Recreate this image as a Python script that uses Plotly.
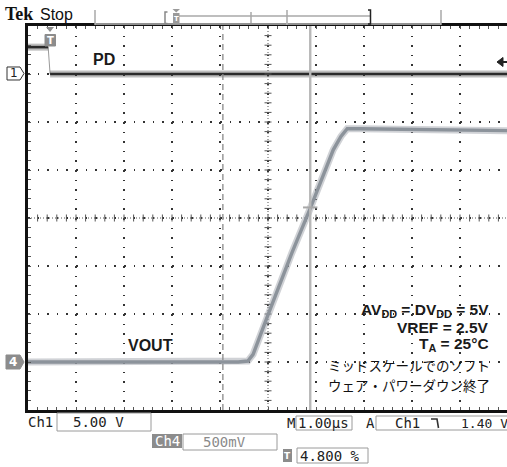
import plotly.graph_objects as go

# ---- scope record: time in microseconds relative to trigger ----
pd_t = [-0.48, -0.06, -0.02, 9.50]
pd_v = [2.80, 2.80, 0.00, 0.00]          # Ch1, volts

vout_t = [-0.48, 3.90, 4.10, 4.21, 4.52, 5.02, 5.40, 5.88, 6.04, 6.17, 6.44, 7.69, 9.50]
vout_v = [0.00, 0.00, 0.01, 0.08, 0.49, 1.14, 1.60, 2.21, 2.35, 2.43, 2.43, 2.42, 2.41]  # Ch4, volts

ch1_scale = "5.00 V"
ch4_scale = "500mV"
time_scale = "1.00µs"
trig_level = "1.40 V"
trig_pos = "4.800 %"

cond_lines = [
    "<b>AV<sub>DD</sub> = DV<sub>DD</sub> = 5V</b>",
    "<b>VREF = 2.5V</b>",
    "<b>T<sub>A</sub> = 25°C</b>",
]
jp_lines = ["ミッドスケールでのソフト", "ウェア・パワーダウン終了"]

W, H = 507, 467
L, T, PW, PH = 28, 26, 479, 384
X0 = -0.48
XR = [X0, X0 + PW / 48.0]
CH1_RANGE = [-35, 5]
CH4_RANGE = [-0.5, 3.5]


def px(x):
    return (x - L) / PW


def py(y):
    return (T + PH - y) / PH


fig = go.Figure()

# PD (Ch1): fast edge drawn thin, settled levels drawn heavy
fig.add_trace(go.Scatter(x=pd_t, y=pd_v, mode="lines", yaxis="y",
                         line=dict(color="#9a9a9a", width=1), hoverinfo="skip"))
for seg in (slice(0, 2), slice(2, 4)):
    fig.add_trace(go.Scatter(x=pd_t[seg], y=pd_v[seg], mode="lines", yaxis="y",
                             line=dict(color="rgba(70,70,70,0.35)", width=7), hoverinfo="skip"))
    fig.add_trace(go.Scatter(x=pd_t[seg], y=pd_v[seg], mode="lines", yaxis="y",
                             line=dict(color="#2b2b2b", width=2.6), hoverinfo="skip"))

# VOUT (Ch4)
fig.add_trace(go.Scatter(x=vout_t, y=vout_v, mode="lines", yaxis="y2",
                         line=dict(color="rgba(150,156,164,0.45)", width=7), hoverinfo="skip"))
fig.add_trace(go.Scatter(x=vout_t, y=vout_v, mode="lines", yaxis="y2",
                         line=dict(color="#8c939b", width=3.4), hoverinfo="skip"))

# graticule centre-line ticks (every 1/5 division)
xc = X0 + 5
tick_x = [X0 + i * 0.2 for i in range(1, 50)]
tick_y = [CH1_RANGE[0] + i * 1.0 for i in range(1, 40)]
fig.add_trace(go.Scatter(x=tick_x, y=[-15] * len(tick_x), mode="markers", yaxis="y",
                         marker=dict(symbol="line-ns", size=5, line=dict(color="#555", width=1)),
                         hoverinfo="skip"))
fig.add_trace(go.Scatter(x=[xc] * len(tick_y), y=tick_y, mode="markers", yaxis="y",
                         marker=dict(symbol="line-ew", size=5, line=dict(color="#555", width=1)),
                         hoverinfo="skip"))

shapes = []
# centre crosshair
shapes.append(dict(type="line", xref="x", yref="y", x0=XR[0], x1=XR[1], y0=-15, y1=-15,
                   line=dict(color="#555", width=1, dash="1px,2px"), layer="below"))
shapes.append(dict(type="line", xref="x", yref="paper", x0=xc, x1=xc, y0=0, y1=1,
                   line=dict(color="#555", width=1, dash="1px,2px"), layer="below"))
# cursors
shapes.append(dict(type="line", xref="x", yref="paper", x0=3.58, x1=3.58, y0=0, y1=1,
                   line=dict(color="#8a8a8a", width=1.3, dash="6px,4px")))
shapes.append(dict(type="line", xref="x", yref="paper", x0=5.40, x1=5.40, y0=0, y1=1,
                   line=dict(color="#b8b8b8", width=2.4)))
shapes.append(dict(type="line", xref="x", yref="y2", x0=5.25, x1=5.55, y0=1.61, y1=1.61,
                   line=dict(color="#a8a8a8", width=2)))


def path(pts, close=True):
    s = "M" + " L".join(f"{px(a):.5f},{py(b):.5f}" for a, b in pts)
    return s + (" Z" if close else "")


# channel ground markers
shapes.append(dict(type="path", xref="paper", yref="paper",
                   path=path([(7, 67), (20, 67), (24, 73.5), (20, 80), (7, 80)]),
                   fillcolor="white", line=dict(color="#333", width=1)))
shapes.append(dict(type="path", xref="paper", yref="paper",
                   path=path([(6, 355), (20, 355), (24, 362), (20, 369), (6, 369)]),
                   fillcolor="#8c8c8c", line=dict(color="#8c8c8c", width=1)))
# trigger position marker
shapes.append(dict(type="path", xref="paper", yref="paper",
                   path=path([(46, 27), (54, 27), (50, 32)]),
                   fillcolor="#8c8c8c", line=dict(width=0)))
shapes.append(dict(type="rect", xref="paper", yref="paper",
                   x0=px(45), x1=px(55.5), y0=py(46), y1=py(34.5),
                   fillcolor="#8c8c8c", line=dict(color="#8c8c8c", width=1)))
# trigger level arrow
shapes.append(dict(type="path", xref="paper", yref="paper",
                   path=path([(497, 62), (503, 57.5), (503, 66.5)]),
                   fillcolor="#222", line=dict(color="#222", width=1)))
shapes.append(dict(type="line", xref="paper", yref="paper", x0=px(502), x1=px(507),
                   y0=py(62), y1=py(62), line=dict(color="#222", width=2)))

# header record bar
hdr = "#a8a8a8"
for xv, ya, yb in [(95, 10, 25), (251, 12, 23), (287, 10, 25), (441, 10, 25)]:
    shapes.append(dict(type="line", xref="paper", yref="paper", x0=px(xv), x1=px(xv),
                       y0=py(ya), y1=py(yb), line=dict(color=hdr, width=1.5)))
shapes.append(dict(type="line", xref="paper", yref="paper", x0=px(179), x1=px(370),
                   y0=py(16), y1=py(16), line=dict(color=hdr, width=1.5)))
shapes.append(dict(type="line", xref="paper", yref="paper", x0=px(95), x1=px(441),
                   y0=py(24), y1=py(24), line=dict(color="#bdbdbd", width=1.5)))
shapes.append(dict(type="path", xref="paper", yref="paper",
                   path=path([(167.5, 12), (165, 12), (165, 23.5), (167.5, 23.5)], close=False),
                   line=dict(color="#888", width=1.5)))
shapes.append(dict(type="path", xref="paper", yref="paper",
                   path=path([(368, 10), (370.5, 10), (370.5, 24), (368, 24)], close=False),
                   line=dict(color="#222", width=1.5)))
shapes.append(dict(type="rect", xref="paper", yref="paper", x0=px(173), x1=px(179.5),
                   y0=py(24), y1=py(13), fillcolor="#9a9a9a", line=dict(width=0)))
shapes.append(dict(type="path", xref="paper", yref="paper",
                   path=path([(172.5, 9), (180, 9), (176.2, 12.5)]),
                   fillcolor="#9a9a9a", line=dict(width=0)))

# bottom read-out boxes
box = dict(color="#9a9a9a", width=1)
for x0, y0, x1, y1 in [(57, 413, 151, 431), (183, 434, 277, 450), (296, 416, 352, 430),
                       (376, 416, 512, 430), (297, 448, 368, 463)]:
    shapes.append(dict(type="rect", xref="paper", yref="paper", x0=px(x0), x1=px(x1),
                       y0=py(y1), y1=py(y0), line=box, fillcolor="rgba(0,0,0,0)"))
shapes.append(dict(type="rect", xref="paper", yref="paper", x0=px(152), x1=px(182),
                   y0=py(448), y1=py(434), fillcolor="#8c8c8c", line=dict(width=0)))
shapes.append(dict(type="rect", xref="paper", yref="paper", x0=px(283), x1=px(292),
                   y0=py(462), y1=py(449), fillcolor="#8c8c8c", line=dict(width=0)))
# falling-edge slope symbol
shapes.append(dict(type="path", xref="paper", yref="paper",
                   path=path([(431, 419), (437, 419), (438.5, 428)], close=False),
                   line=dict(color="#333", width=1.6)))

ann = []


def text(x, y, s, size=14, color="#222", family="Liberation Sans", xa="center", ya="middle",
         h=None):
    a = dict(x=px(x), y=py(y), xref="paper", yref="paper", text=s, showarrow=False,
             xanchor=xa, yanchor=ya, font=dict(size=size, color=color, family=family))
    if h is not None:
        a.update(height=h, valign="middle")
    ann.append(a)


mono = "DejaVu Sans Mono"
text(3, 14, "<b>Tek</b>", 18, "#111", "Liberation Serif", xa="left")
text(38, 14.5, "Stop", 16, "#111", "Liberation Sans", xa="left")
text(13.5, 73.5, "1", 12, "#222", "DejaVu Sans")
text(13, 362, "<b>4</b>", 12, "white", "DejaVu Sans")
text(50.3, 40.5, "<b>T</b>", 10, "white", "DejaVu Sans")
text(176.3, 18.5, "<b>T</b>", 7, "white", "DejaVu Sans")
text(104, 60, "<b>PD</b>", 16, "#1a1a1a")
text(150, 345, "<b>VOUT</b>", 16, "#1a1a1a")

for s, yy in zip(cond_lines, [310.5, 327.5, 344]):
    text(491, yy, s, 15.5, "#1a1a1a", xa="right", h=15)
for s, yy in zip(jp_lines, [364.5, 385]):
    text(492, yy, s, 13.5, "#111", "Noto Sans CJK JP", xa="right", h=18)

text(26, 422, "Ch1", 14, "#222", mono, xa="left")
text(98, 422, ch1_scale, 14, "#222", mono)
text(167, 441, "Ch4", 14, "white", mono)
text(224, 442, ch4_scale, 14, "#8a8a8a", mono)
text(291, 423, "M", 14, "#222", mono)
text(323, 423, time_scale, 14, "#222", mono)
text(370, 423, "A", 14, "#222", mono)
text(407, 423, "Ch1", 14, "#222", mono)
text(459, 423, trig_level, 13, "#222", mono, xa="left")
text(287.5, 455.5, "<b>T</b>", 9, "white", "DejaVu Sans")
text(298, 456, trig_pos, 14, "#222", mono, xa="left")

fig.update_layout(
    width=W, height=H,
    margin=dict(l=L, r=W - L - PW, t=T, b=H - T - PH, pad=0),
    paper_bgcolor="white", plot_bgcolor="white",
    showlegend=False,
    shapes=shapes, annotations=ann,
    xaxis=dict(range=XR, showgrid=True, gridcolor="#333", gridwidth=1.6,
               griddash="1.6px,8px", tick0=X0, dtick=1, zeroline=False,
               showline=True, linecolor="#111", linewidth=3, mirror="allticks",
               ticks="inside", ticklen=3, tickcolor="#555", showticklabels=False,
               minor=dict(tick0=X0, dtick=0.2, ticks="inside", ticklen=3, tickcolor="#555",
                          showgrid=False)),
    yaxis=dict(range=CH1_RANGE, showgrid=True, gridcolor="#333", gridwidth=1.6,
               griddash="1.6px,8px", tick0=0, dtick=5, zeroline=False,
               showline=True, linecolor="#111", linewidth=3,
               ticks="inside", ticklen=3, tickcolor="#555", showticklabels=False,
               minor=dict(dtick=1, ticks="inside", ticklen=3, tickcolor="#555", showgrid=False)),
    yaxis2=dict(range=CH4_RANGE, overlaying="y", showgrid=False, zeroline=False,
                showticklabels=False, showline=False),
)

fig.write_html("out.html")
